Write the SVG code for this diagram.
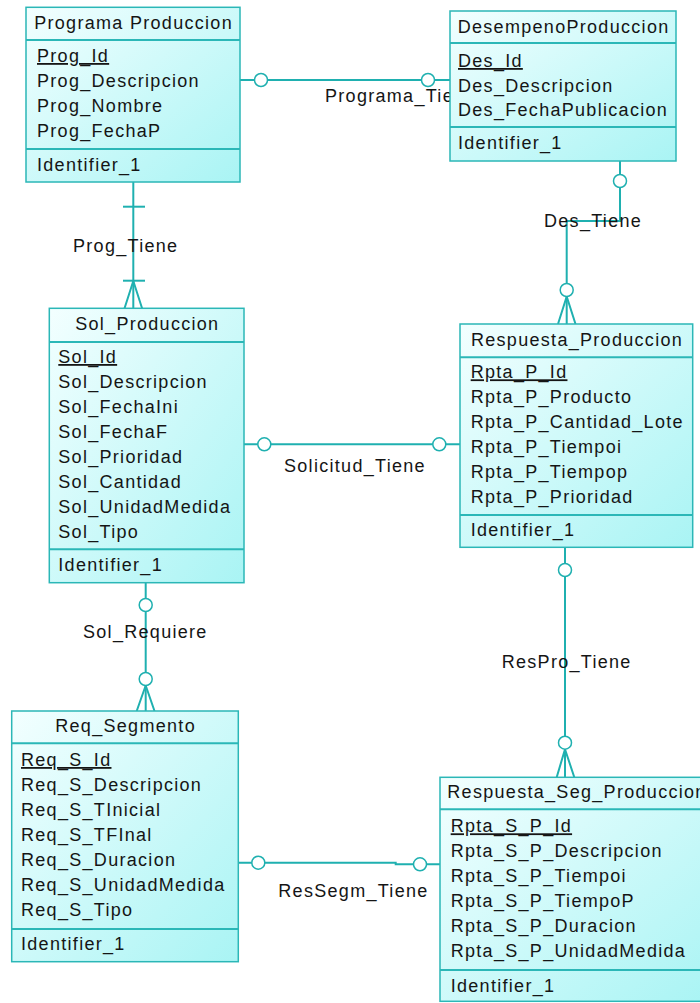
<svg xmlns="http://www.w3.org/2000/svg" width="700" height="1003" viewBox="0 0 700 1003">
  <defs>
    <linearGradient id="entFill" x1="0" y1="0" x2="1" y2="1">
      <stop offset="0" stop-color="#f3ffff"/>
      <stop offset="1" stop-color="#a9f4f4"/>
    </linearGradient>
    <style>
      .box { fill: url(#entFill); stroke: #2bb7b7; stroke-width: 1.5; }
      .sep { stroke: #2bb7b7; stroke-width: 2; }
      .t { font-family: "Liberation Sans", Arial, sans-serif; font-size: 18px; letter-spacing: 1.3px; fill: #151515; }
      .ttl { text-anchor: middle; }
      .pk { text-decoration: underline; }
      .ln { fill: none; stroke: #1fb0b0; stroke-width: 2; }
      .opt { fill: #ffffff; stroke: #1fb0b0; stroke-width: 1.5; }
    </style>
  </defs>
  <rect width="700" height="1003" fill="#ffffff"/>

  <!-- relationships -->
  <g id="connectors">
    <!-- Programa_Tiene -->
    <g id="rel-programa-tiene">
      <line class="ln" x1="240" y1="80" x2="450" y2="80"/>
      <circle class="opt" cx="261" cy="80" r="6.5"/>
      <circle class="opt" cx="428" cy="80" r="6.5"/>
      <text class="t" x="325" y="102">Programa_Tiene</text>
    </g>
    <!-- Prog_Tiene -->
    <g id="rel-prog-tiene">
      <line class="ln" x1="133.3" y1="182" x2="133.3" y2="309"/>
      <line class="ln" x1="123" y1="206.7" x2="145" y2="206.7"/>
      <line class="ln" x1="123" y1="280.7" x2="145" y2="280.7"/>
      <path class="ln" d="M133.3 281 L124.3 309 M133.3 281 L142.3 309"/>
      <text class="t" x="73" y="252">Prog_Tiene</text>
    </g>
    <!-- Des_Tiene -->
    <g id="rel-des-tiene">
      <path class="ln" d="M620 161 V221 H566.7 V324"/>
      <circle class="opt" cx="620" cy="181" r="6.5"/>
      <circle class="opt" cx="566.7" cy="290" r="6.5"/>
      <path class="ln" d="M566.7 296.5 L558 324 M566.7 296.5 L575.5 324"/>
      <text class="t" x="544" y="226.7">Des_Tiene</text>
    </g>
    <!-- Solicitud_Tiene -->
    <g id="rel-solicitud-tiene">
      <line class="ln" x1="244" y1="444.3" x2="460" y2="444.3"/>
      <circle class="opt" cx="264.3" cy="444.3" r="6.5"/>
      <circle class="opt" cx="439.3" cy="444.3" r="6.5"/>
      <text class="t" x="284" y="471.7">Solicitud_Tiene</text>
    </g>
    <!-- Sol_Requiere -->
    <g id="rel-sol-requiere">
      <line class="ln" x1="145.7" y1="582.7" x2="145.7" y2="711"/>
      <circle class="opt" cx="145.7" cy="605" r="6.5"/>
      <circle class="opt" cx="145.7" cy="679" r="6.5"/>
      <path class="ln" d="M145.7 685.5 L136.7 711 M145.7 685.5 L154.5 711"/>
      <text class="t" x="83" y="638.3">Sol_Requiere</text>
    </g>
    <!-- ResPro_Tiene -->
    <g id="rel-respro-tiene">
      <line class="ln" x1="565" y1="547.3" x2="565" y2="777.3"/>
      <circle class="opt" cx="565" cy="570" r="6.5"/>
      <circle class="opt" cx="565" cy="742.7" r="6.5"/>
      <path class="ln" d="M565 749.2 L556.7 777.3 M565 749.2 L574.3 777.3"/>
      <text class="t" x="501.7" y="668.3">ResPro_Tiene</text>
    </g>
    <!-- ResSegm_Tiene -->
    <g id="rel-ressegm-tiene">
      <path class="ln" d="M238.3 862.7 H395.7 V864.3 H440"/>
      <circle class="opt" cx="258.3" cy="862.7" r="6.5"/>
      <circle class="opt" cx="420" cy="864.3" r="6.5"/>
      <text class="t" x="278.3" y="896.7">ResSegm_Tiene</text>
    </g>
  </g>

  <!-- entities -->
  <g id="programa-produccion">
    <rect class="box" x="26" y="7.3" width="214" height="174.7"/>
    <line class="sep" x1="26" y1="40" x2="240" y2="40"/>
    <line class="sep" x1="26" y1="149" x2="240" y2="149"/>
    <text class="t ttl" x="133.6" y="29">Programa Produccion</text>
    <text class="t pk" x="37" y="62">Prog_Id</text>
    <text class="t" x="37" y="87">Prog_Descripcion</text>
    <text class="t" x="37" y="112">Prog_Nombre</text>
    <text class="t" x="37" y="137">Prog_FechaP</text>
    <text class="t" x="37" y="171">Identifier_1</text>
  </g>

  <g id="desempeno-produccion">
    <rect class="box" x="450" y="11" width="226" height="150"/>
    <line class="sep" x1="450" y1="43" x2="676" y2="43"/>
    <line class="sep" x1="450" y1="127" x2="676" y2="127"/>
    <text class="t ttl" x="563.6" y="33">DesempenoProduccion</text>
    <text class="t pk" x="458" y="67">Des_Id</text>
    <text class="t" x="458" y="91.5">Des_Descripcion</text>
    <text class="t" x="458" y="116">Des_FechaPublicacion</text>
    <text class="t" x="458" y="149">Identifier_1</text>
  </g>

  <g id="sol-produccion">
    <rect class="box" x="49.3" y="308.3" width="194.7" height="274.4"/>
    <line class="sep" x1="49.3" y1="342" x2="244" y2="342"/>
    <line class="sep" x1="49.3" y1="549.3" x2="244" y2="549.3"/>
    <text class="t ttl" x="147.3" y="330">Sol_Produccion</text>
    <text class="t pk" x="58.3" y="363">Sol_Id</text>
    <text class="t" x="58.3" y="388">Sol_Descripcion</text>
    <text class="t" x="58.3" y="413">Sol_FechaIni</text>
    <text class="t" x="58.3" y="438">Sol_FechaF</text>
    <text class="t" x="58.3" y="463">Sol_Prioridad</text>
    <text class="t" x="58.3" y="488">Sol_Cantidad</text>
    <text class="t" x="58.3" y="513">Sol_UnidadMedida</text>
    <text class="t" x="58.3" y="538">Sol_Tipo</text>
    <text class="t" x="58.3" y="571">Identifier_1</text>
  </g>

  <g id="respuesta-produccion">
    <rect class="box" x="460" y="324" width="232.7" height="223.3"/>
    <line class="sep" x1="460" y1="357.3" x2="692.7" y2="357.3"/>
    <line class="sep" x1="460" y1="515" x2="692.7" y2="515"/>
    <text class="t ttl" x="577" y="345.7">Respuesta_Produccion</text>
    <text class="t pk" x="470.7" y="378.3">Rpta_P_Id</text>
    <text class="t" x="470.7" y="403">Rpta_P_Producto</text>
    <text class="t" x="470.7" y="428">Rpta_P_Cantidad_Lote</text>
    <text class="t" x="470.7" y="453">Rpta_P_Tiempoi</text>
    <text class="t" x="470.7" y="478">Rpta_P_Tiempop</text>
    <text class="t" x="470.7" y="503">Rpta_P_Prioridad</text>
    <text class="t" x="470.7" y="536">Identifier_1</text>
  </g>

  <g id="req-segmento">
    <rect class="box" x="11.7" y="711" width="226.6" height="250.7"/>
    <line class="sep" x1="11.7" y1="743.3" x2="238.3" y2="743.3"/>
    <line class="sep" x1="11.7" y1="929" x2="238.3" y2="929"/>
    <text class="t ttl" x="125.6" y="732">Req_Segmento</text>
    <text class="t pk" x="21" y="766">Req_S_Id</text>
    <text class="t" x="21" y="791">Req_S_Descripcion</text>
    <text class="t" x="21" y="816">Req_S_TInicial</text>
    <text class="t" x="21" y="841">Req_S_TFInal</text>
    <text class="t" x="21" y="866">Req_S_Duracion</text>
    <text class="t" x="21" y="891">Req_S_UnidadMedida</text>
    <text class="t" x="21" y="916">Req_S_Tipo</text>
    <text class="t" x="21" y="950">Identifier_1</text>
  </g>

  <g id="respuesta-seg-produccion">
    <rect class="box" x="440" y="777.3" width="270" height="224"/>
    <line class="sep" x1="440" y1="809.3" x2="710" y2="809.3"/>
    <line class="sep" x1="440" y1="970" x2="710" y2="970"/>
    <text class="t" x="447.3" y="798.3">Respuesta_Seg_Produccion</text>
    <text class="t pk" x="450.7" y="832.3">Rpta_S_P_Id</text>
    <text class="t" x="450.7" y="857">Rpta_S_P_Descripcion</text>
    <text class="t" x="450.7" y="882">Rpta_S_P_Tiempoi</text>
    <text class="t" x="450.7" y="907">Rpta_S_P_TiempoP</text>
    <text class="t" x="450.7" y="932">Rpta_S_P_Duracion</text>
    <text class="t" x="450.7" y="957">Rpta_S_P_UnidadMedida</text>
    <text class="t" x="450.7" y="991.7">Identifier_1</text>
  </g>
</svg>
